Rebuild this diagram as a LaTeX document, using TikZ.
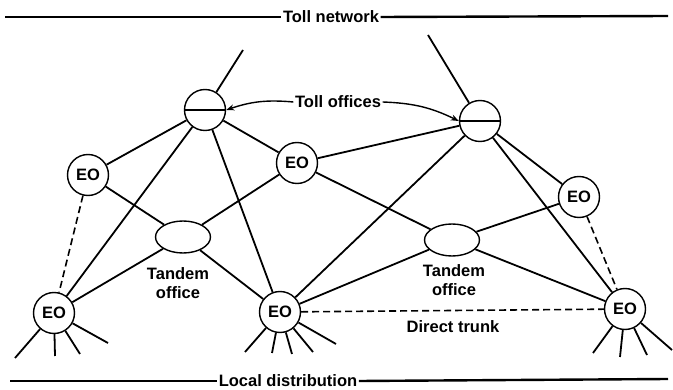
\documentclass[tikz,border=0pt]{standalone}
\usepackage{fontspec}
\setmainfont{Liberation Sans}
\usetikzlibrary{arrows.meta,shapes.geometric}
\begin{document}
\begin{tikzpicture}[x=1pt,y=-1pt,
  lbl/.style={font=\fontsize{16.5}{18.5}\selectfont\bfseries,inner sep=1.5pt},
  eo/.style={circle,draw,line width=1.4pt,minimum size=41pt,inner sep=0pt,font=\fontsize{16.5}{16.5}\selectfont\bfseries},
  toll/.style={circle,draw,line width=1.4pt,minimum size=41pt,inner sep=0pt},
  tandem/.style={ellipse,draw,line width=1.4pt,minimum width=55pt,minimum height=32pt,inner sep=0pt},
  edge/.style={line width=1.8pt},
  trunk/.style={line width=1.6pt,dash pattern=on 7pt off 4pt},
  rule/.style={line width=2.4pt}]
\useasboundingbox (0,0) rectangle (673,390);
% nodes
\node[toll] (T1) at (205,110) {};
\node[toll] (T2) at (480,121) {};
\draw[line width=1.8pt] (T1.west) -- (T1.east);
\draw[line width=1.8pt] (T2.west) -- (T2.east);
\node[eo] (E1) at (88,175) {EO};
\node[eo] (E2) at (54,313) {EO};
\node[eo] (E3) at (280,312) {EO};
\node[eo] (E4) at (297,163) {EO};
\node[eo] (E5) at (579,197) {EO};
\node[eo] (E6) at (625,309) {EO};
\node[tandem] (TL) at (183,237) {};
\node[tandem] (TR) at (452,240) {};
% labels
\node[lbl] (TN) at (331,17) {Toll network};
\node[lbl] (LD) at (288,381) {Local distribution};
\node[lbl] (TO) at (338,102) {Toll offices};
\node[lbl,align=center] (TLl) at (178,283) {Tandem\\office};
\node[lbl,align=center] (TRl) at (454,280) {Tandem\\office};
\node[lbl] (DT) at (453,327) {Direct trunk};
% rules
\coordinate (r1) at (5,17);
\coordinate (r2) at (668,16);
\coordinate (r3) at (10,381);
\coordinate (r4) at (668,379);
\draw[rule] (r1) -- (TN.west);
\draw[rule] (TN.east) -- (r2);
\draw[rule] (r3) -- (LD.west);
\draw[rule] (LD.east) -- (r4);
% arrows
\draw[line width=1.4pt,-{Stealth[length=8pt,width=6pt]}] (TO.west) to[bend right=12] (T1.east);
\draw[line width=1.4pt,-{Stealth[length=8pt,width=6pt]}] (TO.east) to[bend left=12] (T2.west);
% stubs
\coordinate (s1) at (243,50);
\coordinate (s2) at (428,35);
\draw[edge] (T1) -- (s1);
\draw[edge] (T2) -- (s2);
% edges
\draw[edge] (T1) -- (E1);
\draw[edge] (T1) -- (E2);
\draw[edge] (T1) -- (E3);
\draw[edge] (T1) -- (E4);
\draw[edge] (E1) -- (TL);
\draw[edge] (E2) -- (TL);
\draw[edge] (E4) -- (TL);
\draw[edge] (TL) -- (E3);
\draw[edge] (E4) -- (T2);
\draw[edge] (E4) -- (TR);
\draw[edge] (E3) -- (T2);
\draw[edge] (E3) -- (TR);
\draw[edge] (TR) -- (E5);
\draw[edge] (TR) -- (E6);
\draw[edge] (T2) -- (E5);
\draw[edge] (T2) -- (E6);
\draw[trunk] (E1) -- (E2);
\draw[trunk] (E5) -- (E6);
\draw[trunk] (E3) -- (E6);
% fans
\coordinate (a1) at (15,358);
\coordinate (a2) at (55,356);
\coordinate (a3) at (80,354);
\coordinate (a4) at (108,343);
\coordinate (b1) at (245,352);
\coordinate (b2) at (272,353);
\coordinate (b3) at (292,354);
\coordinate (b4) at (313,352);
\coordinate (b5) at (336,344);
\coordinate (c1) at (593,353);
\coordinate (c2) at (620,357);
\coordinate (c3) at (647,355);
\coordinate (c4) at (672,350);
\foreach \p in {a1,a2,a3,a4} \draw[edge] (E2) -- (\p);
\foreach \p in {b1,b2,b3,b4,b5} \draw[edge] (E3) -- (\p);
\foreach \p in {c1,c2,c3,c4} \draw[edge] (E6) -- (\p);
\end{tikzpicture}
\end{document}
